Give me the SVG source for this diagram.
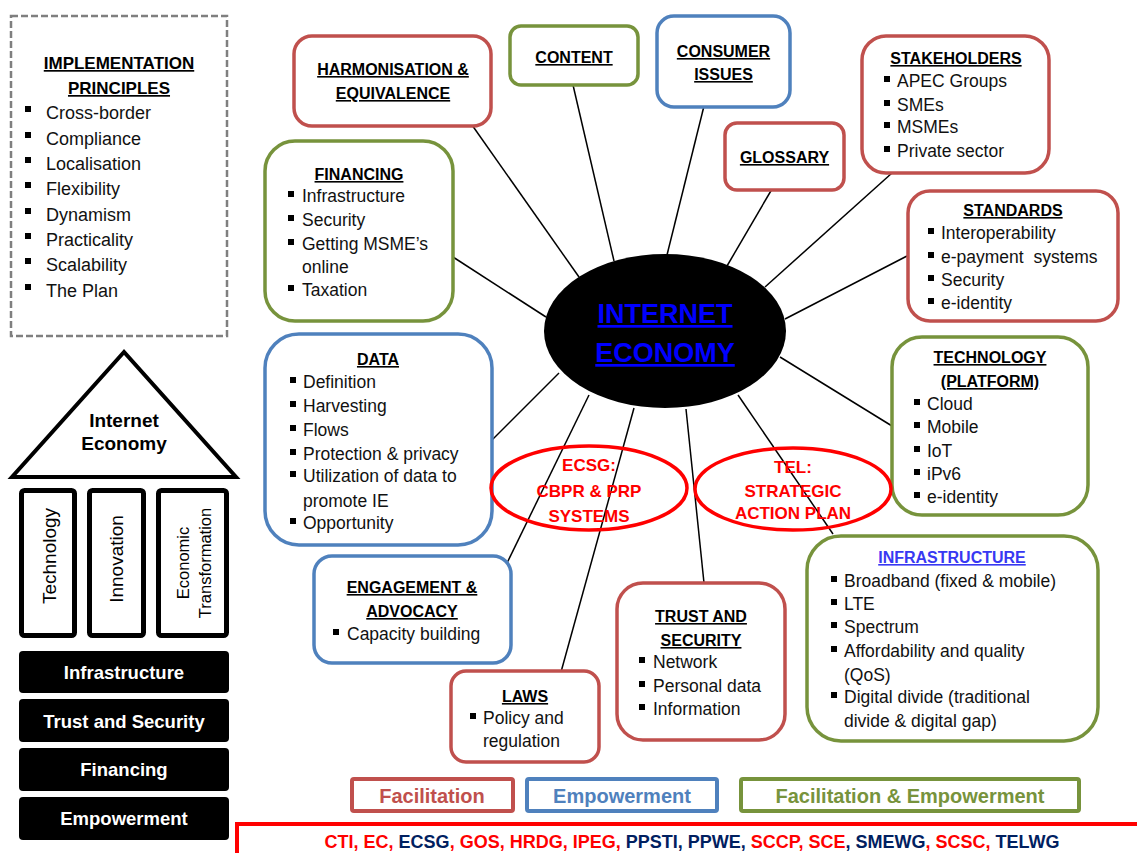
<svg xmlns="http://www.w3.org/2000/svg" width="1137" height="853" viewBox="0 0 1137 853">
<defs>
<style>
text{font-family:"Liberation Sans",Arial,sans-serif;}
.t{font-size:16px;font-weight:bold;fill:#000;text-anchor:middle;text-decoration:underline;}
.b{font-size:17.5px;fill:#111;}
.box{fill:#fff;stroke-width:3.5;}
.red{stroke:#c0504d;}
.grn{stroke:#77933c;}
.blu{stroke:#4f81bd;}
.sp{stroke:#000;stroke-width:1.5;}
.bul{fill:#000;}
.rel{fill:none;stroke:#ff0000;stroke-width:3.5;}
.rt{font-size:17px;font-weight:bold;fill:#ff0000;text-anchor:middle;}
.bar{fill:#000;}
.bt{font-size:18.5px;font-weight:bold;fill:#fff;text-anchor:middle;}
.pil{fill:#fff;stroke:#000;stroke-width:5;}
.lg{font-size:20px;font-weight:bold;text-anchor:middle;}
.nv{fill:#002060;}
.rd{fill:#ff0000;}
</style>
<rect id="bu" width="6" height="6"/>
</defs>
<rect width="1137" height="853" fill="#fff"/>

<g id="connectors">
<line class="sp" x1="472" y1="125" x2="579" y2="277"/>
<line class="sp" x1="573" y1="85" x2="614" y2="261"/>
<line class="sp" x1="704" y1="106" x2="667" y2="255"/>
<line class="sp" x1="772" y1="189" x2="727" y2="266"/>
<line class="sp" x1="892" y1="173" x2="765" y2="287"/>
<line class="sp" x1="907" y1="256" x2="785" y2="319"/>
<line class="sp" x1="453" y1="257" x2="546" y2="317"/>
<line class="sp" x1="492" y1="440" x2="559" y2="373"/>
<line class="sp" x1="589" y1="395" x2="507" y2="563"/>
<line class="sp" x1="634" y1="408" x2="561" y2="672"/>
<line class="sp" x1="686" y1="409" x2="704" y2="583"/>
<line class="sp" x1="738" y1="395" x2="833" y2="534"/>
<line class="sp" x1="780" y1="357" x2="892" y2="426"/>
</g>

<g id="implementation-principles">
<rect x="11" y="16" width="216" height="320" fill="#fff" stroke="#7f7f7f" stroke-width="2.5" stroke-dasharray="7,3"/>
<text class="t" x="119" y="69" style="font-size:17px">IMPLEMENTATION</text>
<text class="t" x="119" y="94" style="font-size:17px">PRINCIPLES</text>
<g class="bul">
<use href="#bu" x="25" y="106"/><use href="#bu" x="25" y="132"/><use href="#bu" x="25" y="157"/><use href="#bu" x="25" y="182"/>
<use href="#bu" x="25" y="208"/><use href="#bu" x="25" y="233"/><use href="#bu" x="25" y="258"/><use href="#bu" x="25" y="284"/>
</g>
<text class="b" style="font-size:18px" x="46" y="119">Cross-border</text>
<text class="b" style="font-size:18px" x="46" y="145">Compliance</text>
<text class="b" style="font-size:18px" x="46" y="170">Localisation</text>
<text class="b" style="font-size:18px" x="46" y="195">Flexibility</text>
<text class="b" style="font-size:18px" x="46" y="221">Dynamism</text>
<text class="b" style="font-size:18px" x="46" y="246">Practicality</text>
<text class="b" style="font-size:18px" x="46" y="271">Scalability</text>
<text class="b" style="font-size:18px" x="46" y="297">The Plan</text>
</g>

<g id="house">
<polygon points="124,352 12,477 236,477" fill="#fff" stroke="#000" stroke-width="4" stroke-linejoin="miter"/>
<text x="124" y="427" style="font-size:19px;font-weight:bold;text-anchor:middle">Internet</text>
<text x="124" y="450" style="font-size:19px;font-weight:bold;text-anchor:middle">Economy</text>
<rect class="pil" x="21.5" y="490.5" width="53" height="145" rx="3"/>
<rect class="pil" x="89.5" y="490.5" width="54" height="145" rx="3"/>
<rect class="pil" x="158.5" y="490.5" width="68" height="145" rx="3"/>
<text transform="translate(56,556) rotate(-90)" style="font-size:19px;text-anchor:middle">Technology</text>
<text transform="translate(123,559) rotate(-90)" style="font-size:19px;text-anchor:middle">Innovation</text>
<text transform="translate(189,563) rotate(-90)" style="font-size:16.5px;text-anchor:middle">Economic</text>
<text transform="translate(211,563) rotate(-90)" style="font-size:16.5px;text-anchor:middle">Transformation</text>
<rect class="bar" x="19" y="651" width="210" height="42" rx="4"/>
<rect class="bar" x="19" y="699" width="210" height="43" rx="4"/>
<rect class="bar" x="19" y="748" width="210" height="43" rx="4"/>
<rect class="bar" x="19" y="797" width="210" height="43" rx="4"/>
<text class="bt" x="124" y="679">Infrastructure</text>
<text class="bt" x="124" y="728">Trust and Security</text>
<text class="bt" x="124" y="776">Financing</text>
<text class="bt" x="124" y="825">Empowerment</text>
</g>

<g id="internet-economy">
<ellipse cx="665" cy="331" rx="121" ry="77" fill="#000"/>
<text x="665" y="323" style="font-size:27px;font-weight:bold;fill:#0000ff;text-anchor:middle;text-decoration:underline">INTERNET</text>
<text x="665" y="362" style="font-size:27px;font-weight:bold;fill:#0000ff;text-anchor:middle;text-decoration:underline">ECONOMY</text>
</g>

<g id="harmonisation">
<rect class="box red" x="294" y="36" width="197" height="90" rx="18"/>
<text class="t" x="393" y="75">HARMONISATION &amp;</text>
<text class="t" x="393" y="99">EQUIVALENCE</text>
</g>

<g id="content">
<rect class="box grn" x="510" y="26" width="128" height="59" rx="11"/>
<text class="t" x="574" y="63">CONTENT</text>
</g>

<g id="consumer-issues">
<rect class="box blu" x="657" y="16" width="133" height="91" rx="17"/>
<text class="t" x="723.5" y="57">CONSUMER</text>
<text class="t" x="723.5" y="80">ISSUES</text>
</g>

<g id="glossary">
<rect class="box red" x="725" y="123" width="119" height="67" rx="12"/>
<text class="t" x="784.5" y="163">GLOSSARY</text>
</g>

<g id="stakeholders">
<rect class="box red" x="862" y="36" width="187" height="137" rx="24"/>
<text class="t" x="956" y="64">STAKEHOLDERS</text>
<g class="bul"><use href="#bu" x="884" y="76"/><use href="#bu" x="884" y="100"/><use href="#bu" x="884" y="122"/><use href="#bu" x="884" y="146"/></g>
<text class="b" x="897" y="87">APEC Groups</text>
<text class="b" x="897" y="111">SMEs</text>
<text class="b" x="897" y="133">MSMEs</text>
<text class="b" x="897" y="157">Private sector</text>
</g>

<g id="standards">
<rect class="box red" x="908" y="191" width="210" height="130" rx="22"/>
<text class="t" x="1013" y="216">STANDARDS</text>
<g class="bul"><use href="#bu" x="928" y="228"/><use href="#bu" x="928" y="252"/><use href="#bu" x="928" y="275"/><use href="#bu" x="928" y="298"/></g>
<text class="b" x="941" y="239">Interoperability</text>
<text class="b" x="941" y="263">e-payment&#160; systems</text>
<text class="b" x="941" y="286">Security</text>
<text class="b" x="941" y="309">e-identity</text>
</g>

<g id="financing">
<rect class="box grn" x="265" y="141" width="188" height="180" rx="30"/>
<text class="t" x="359" y="180">FINANCING</text>
<g class="bul"><use href="#bu" x="288" y="191"/><use href="#bu" x="288" y="215"/><use href="#bu" x="288" y="239"/><use href="#bu" x="288" y="285"/></g>
<text class="b" x="302" y="202">Infrastructure</text>
<text class="b" x="302" y="226">Security</text>
<text class="b" x="302" y="250">Getting MSME’s</text>
<text class="b" x="302" y="273">online</text>
<text class="b" x="302" y="296">Taxation</text>
</g>

<g id="data">
<rect class="box blu" x="265" y="334" width="227" height="211" rx="34"/>
<text class="t" x="378" y="365">DATA</text>
<g class="bul"><use href="#bu" x="290" y="377"/><use href="#bu" x="290" y="401"/><use href="#bu" x="290" y="425"/><use href="#bu" x="290" y="449"/><use href="#bu" x="290" y="471"/><use href="#bu" x="290" y="518"/></g>
<text class="b" x="303" y="388">Definition</text>
<text class="b" x="303" y="412">Harvesting</text>
<text class="b" x="303" y="436">Flows</text>
<text class="b" x="303" y="460">Protection &amp; privacy</text>
<text class="b" x="303" y="482">Utilization of data to</text>
<text class="b" x="303" y="507">promote IE</text>
<text class="b" x="303" y="529">Opportunity</text>
</g>

<g id="engagement-advocacy">
<rect class="box blu" x="314" y="556" width="197" height="107" rx="18"/>
<text class="t" x="412" y="593">ENGAGEMENT &amp;</text>
<text class="t" x="412" y="617">ADVOCACY</text>
<use class="bul" href="#bu" x="333" y="629"/>
<text class="b" x="347" y="640">Capacity building</text>
</g>

<g id="laws">
<rect class="box red" x="451" y="671" width="148" height="91" rx="15"/>
<text class="t" x="525" y="702">LAWS</text>
<use class="bul" href="#bu" x="470" y="713"/>
<text class="b" x="483" y="724">Policy and</text>
<text class="b" x="483" y="747">regulation</text>
</g>

<g id="trust-security">
<rect class="box red" x="617" y="583" width="168" height="157" rx="26"/>
<text class="t" x="701" y="622">TRUST AND</text>
<text class="t" x="701" y="646">SECURITY</text>
<g class="bul"><use href="#bu" x="639" y="657"/><use href="#bu" x="639" y="681"/><use href="#bu" x="639" y="704"/></g>
<text class="b" x="653" y="668">Network</text>
<text class="b" x="653" y="692">Personal data</text>
<text class="b" x="653" y="715">Information</text>
</g>

<g id="technology-platform">
<rect class="box grn" x="892" y="337" width="196" height="178" rx="30"/>
<text class="t" x="990" y="363">TECHNOLOGY</text>
<text class="t" x="990" y="387">(PLATFORM)</text>
<g class="bul"><use href="#bu" x="914" y="399"/><use href="#bu" x="914" y="422"/><use href="#bu" x="914" y="446"/><use href="#bu" x="914" y="469"/><use href="#bu" x="914" y="492"/></g>
<text class="b" x="927" y="410">Cloud</text>
<text class="b" x="927" y="433">Mobile</text>
<text class="b" x="927" y="457">IoT</text>
<text class="b" x="927" y="480">iPv6</text>
<text class="b" x="927" y="503">e-identity</text>
</g>

<g id="infrastructure">
<rect class="box grn" x="807" y="536" width="291" height="205" rx="34"/>
<text class="t" x="952" y="563" style="fill:#3838f2">INFRASTRUCTURE</text>
<g class="bul"><use href="#bu" x="831" y="576"/><use href="#bu" x="831" y="599"/><use href="#bu" x="831" y="622"/><use href="#bu" x="831" y="646"/><use href="#bu" x="831" y="692"/></g>
<text class="b" x="844" y="587">Broadband (fixed &amp; mobile)</text>
<text class="b" x="844" y="610">LTE</text>
<text class="b" x="844" y="633">Spectrum</text>
<text class="b" x="844" y="657">Affordability and quality</text>
<text class="b" x="844" y="681">(QoS)</text>
<text class="b" x="844" y="703">Digital divide (traditional</text>
<text class="b" x="844" y="727">divide &amp; digital gap)</text>
</g>

<g id="ecsg">
<ellipse class="rel" cx="589" cy="488" rx="98" ry="42"/>
<text class="rt" x="589" y="471">ECSG:</text>
<text class="rt" x="589" y="497">CBPR &amp; PRP</text>
<text class="rt" x="589" y="522">SYSTEMS</text>
</g>

<g id="tel">
<ellipse class="rel" cx="793" cy="489" rx="98" ry="41"/>
<text class="rt" x="793" y="473">TEL:</text>
<text class="rt" x="793" y="497">STRATEGIC</text>
<text class="rt" x="793" y="519">ACTION PLAN</text>
</g>

<g id="legend">
<rect x="352" y="779" width="161" height="32" fill="#fff" stroke="#c0504d" stroke-width="4" rx="2"/>
<text class="lg" x="432" y="803" fill="#c0504d">Facilitation</text>
<rect x="527" y="779" width="190" height="32" fill="#fff" stroke="#4f81bd" stroke-width="4" rx="2"/>
<text class="lg" x="622" y="803" fill="#4f81bd">Empowerment</text>
<rect x="741" y="779" width="338" height="32" fill="#fff" stroke="#77933c" stroke-width="4" rx="2"/>
<text class="lg" x="910" y="803" fill="#77933c">Facilitation &amp; Empowerment</text>
</g>

<g id="groups">
<rect x="237" y="824" width="920" height="60" fill="#fff" stroke="#ff0000" stroke-width="4"/>
<text x="692" y="848" style="font-size:18px;font-weight:bold;text-anchor:middle"><tspan class="rd">CTI, EC, </tspan><tspan class="nv">ECSG</tspan><tspan class="rd">, GOS, HRDG, IPEG, </tspan><tspan class="nv">PPSTI, PPWE, </tspan><tspan class="rd">SCCP, SCE</tspan><tspan class="nv">, SMEWG</tspan><tspan class="rd">, SCSC, </tspan><tspan class="nv">TELWG</tspan></text>
</g>
</svg>
